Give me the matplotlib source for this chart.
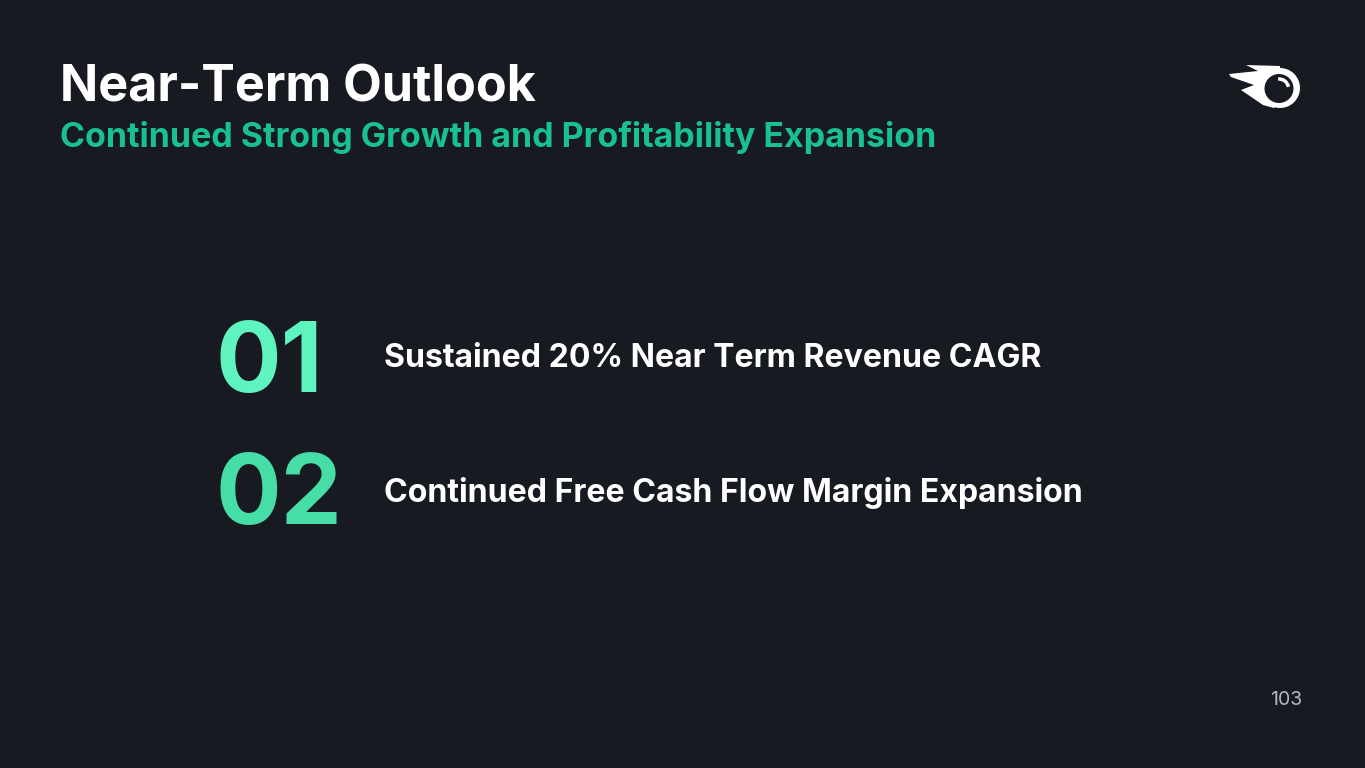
import matplotlib
matplotlib.use("Agg")
import matplotlib.pyplot as plt
from matplotlib.patches import Circle, Polygon, Arc

plt.rcParams['font.family'] = ['Inter', 'DejaVu Sans']

title = "Near-Term Outlook"
subtitle = "Continued Strong Growth and Profitability Expansion"
numbers = ["01", "02"]
items = ["Sustained 20% Near Term Revenue CAGR",
         "Continued Free Cash Flow Margin Expansion"]
number_colors = ["#5ef3bf", "#46dea6"]
page = "103"

bg = "#181a22"

fig = plt.figure(figsize=(13.65, 7.68), dpi=100, facecolor=bg)
ax = fig.add_axes([0, 0, 1, 1])
ax.set_xlim(0, 1365)
ax.set_ylim(768, 0)
ax.axis('off')
ax.set_facecolor(bg)

ax.text(60, 102, title, fontsize=36.2, fontweight='bold', color='white', va='baseline', ha='left')
ax.text(60, 147, subtitle, fontsize=24.45, fontweight='bold', color='#18c18f', va='baseline', ha='left')

num_base = [392, 524]
item_base = [367, 502]
for i in range(len(numbers)):
    ax.text(216, num_base[i], numbers[i], fontsize=70, fontweight='bold',
            color=number_colors[i], va='baseline', ha='left')
    ax.text(384, item_base[i], items[i], fontsize=23.05, fontweight='bold',
            color='white', va='baseline', ha='left')

ax.text(1302, 705, page, fontsize=14, color='#b4b6bc', va='baseline', ha='right')

# logo
flame = Polygon([(1246, 65), (1280, 66), (1283, 100), (1274, 108), (1263, 105),
                 (1241, 90), (1254, 85), (1231, 77), (1229, 74), (1258, 71)],
                closed=True, facecolor='white', edgecolor='none')
ax.add_patch(flame)
ax.add_patch(Circle((1280, 88), 20, facecolor='white', edgecolor='none'))
ax.add_patch(Circle((1279, 88.5), 14.5, facecolor=bg, edgecolor='none'))
ax.add_patch(Arc((1279, 88.5), 19, 19, theta1=-95, theta2=-10, color='white', lw=2.5))

fig.savefig("out.png", dpi=100, facecolor=bg)
